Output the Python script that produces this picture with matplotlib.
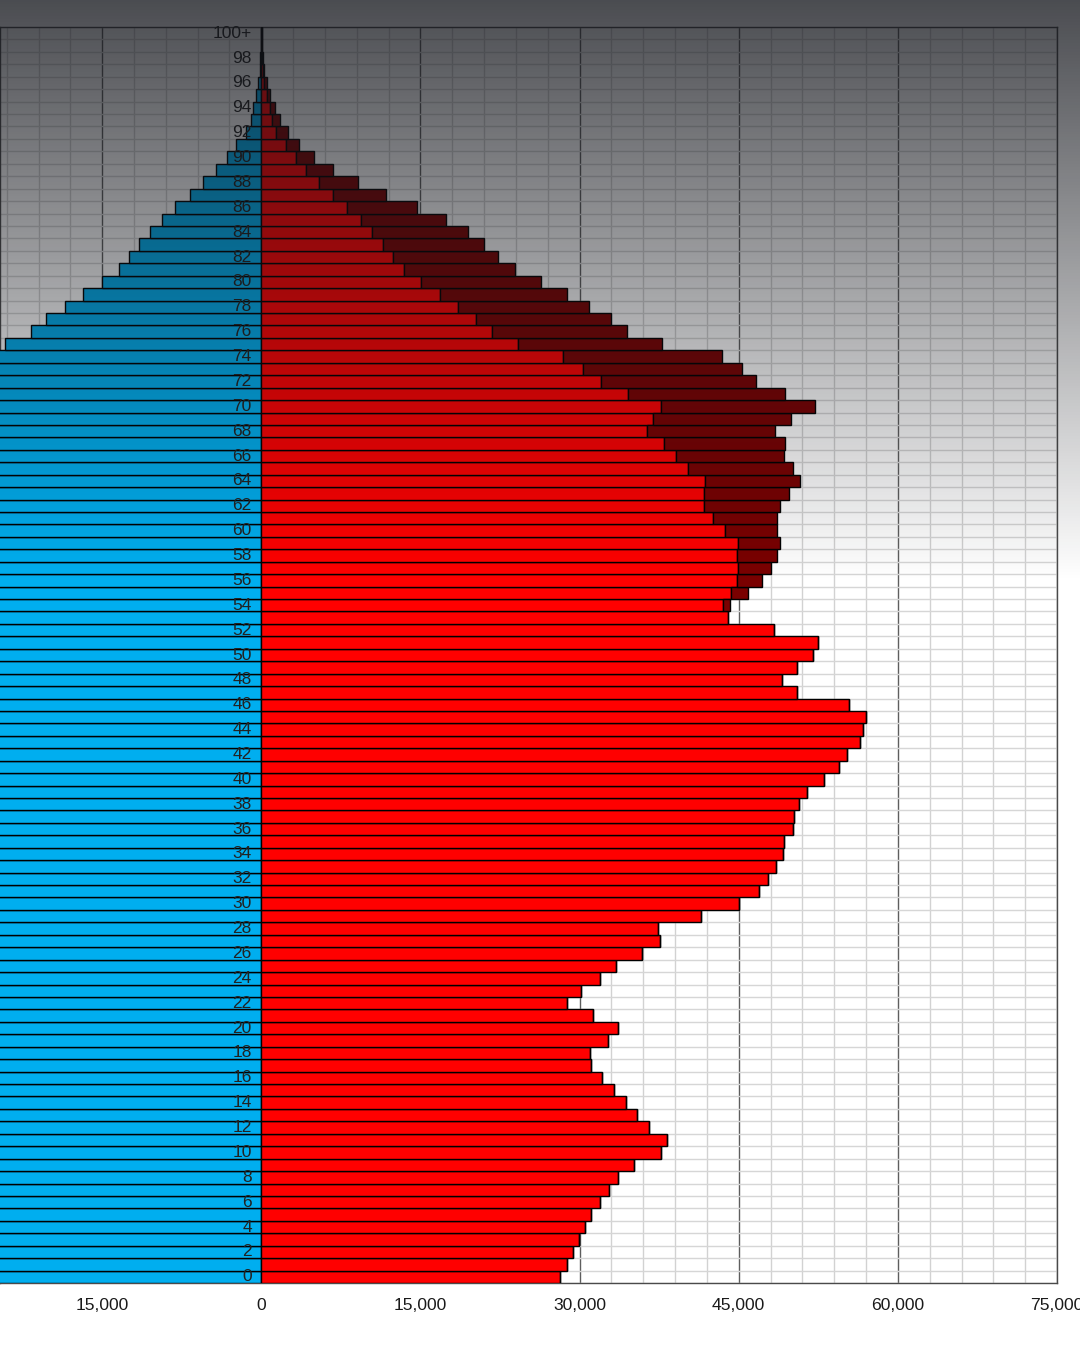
import numpy as np
import matplotlib
matplotlib.use("Agg")
import matplotlib.pyplot as plt
from matplotlib.ticker import FuncFormatter

plt.rcParams['font.family'] = ['Liberation Sans', 'DejaVu Sans']

ages = list(range(101))
age_labels = [("100+" if a == 100 else str(a)) for a in ages]

# female population by age (0 .. 100+)
female = [28200, 28800, 29350, 29950, 30550, 31100, 31900, 32750, 33600, 35150,
          37700, 38250, 36500, 35450, 34400, 33200, 32100, 31050, 30950, 32700,
          33600, 31300, 28850, 30150, 31900, 33400, 35850, 37550, 37350, 41400,
          45000, 46900, 47750, 48500, 49200, 49250, 50100, 50200, 50650, 51400,
          53000, 54450, 55200, 56400, 56700, 57000, 55400, 50450, 49050, 50450,
          52000, 52450, 48300, 43950, 44150, 45850, 47150, 48000, 48600, 48900,
          48600, 48600, 48900, 49700, 50750, 50100, 49300, 49400, 48400, 49900,
          52200, 49400, 46600, 45300, 43400, 37800, 34500, 33000, 30850, 28800,
          26400, 23950, 22350, 20950, 19450, 17450, 14700, 11800, 9100, 6800,
          5000, 3600, 2550, 1800, 1250, 800, 550, 300, 200, 100,
          80]

# male population by age (0 .. 100+)
male = [29600, 30200, 30800, 31400, 32000, 32700, 33500, 34400, 35300, 36900,
        39600, 40200, 38300, 37200, 36100, 34900, 33700, 32600, 32500, 34300,
        35300, 32900, 30300, 31700, 33500, 35100, 37600, 39400, 39200, 43500,
        47300, 49200, 50100, 50900, 51600, 51700, 52600, 52700, 53200, 54000,
        55600, 57100, 57900, 59100, 59400, 59700, 58000, 52900, 51400, 52800,
        54400, 54800, 50400, 44600, 43500, 44250, 44850, 44900, 44850, 44900,
        43750, 42550, 41700, 41750, 41800, 40200, 39050, 38000, 36400, 36900,
        37650, 34600, 32000, 30300, 28400, 24150, 21700, 20250, 18550, 16850,
        15050, 13450, 12450, 11500, 10450, 9400, 8100, 6750, 5450, 4250,
        3250, 2350, 1400, 1000, 800, 500, 300, 150, 100, 50,
        30]

male = np.array(male)
female = np.array(female)
female_base = np.minimum(male, female)
female_extra = np.clip(female - male, 0, None)

fig = plt.figure(figsize=(10.8, 13.5), dpi=100, facecolor='white')
ax = fig.add_axes([0, 67 / 1350, 1057 / 1080, 1256 / 1350])

ax.barh(ages, -male, height=1.0, color='#00aeef', edgecolor='black', linewidth=1.0, zorder=3)
ax.barh(ages, female_base, height=1.0, color='#ff0000', edgecolor='black', linewidth=1.0, zorder=3)
ax.barh(ages, female_extra, left=female_base, height=1.0, color='#7a0000',
        edgecolor='black', linewidth=1.0, zorder=3)

ax.set_xlim(-24630, 75000)
ax.set_ylim(-0.5, 100.5)

# grid
ax.set_xticks(np.arange(-15000, 75001, 15000))
ax.set_xticks(np.arange(-24000, 75001, 3000), minor=True)
ax.set_yticks([])
ax.set_yticks(np.arange(-0.5, 101, 1), minor=True)
ax.grid(which='minor', axis='x', color='#d2d2d2', linewidth=1.0, zorder=0)
ax.grid(which='minor', axis='y', color='#d6d6d6', linewidth=1.0, zorder=0)
ax.grid(which='major', axis='x', color='#5e5e5e', linewidth=1.0, zorder=0)
ax.set_axisbelow(True)
ax.xaxis.set_major_formatter(FuncFormatter(lambda v, p: f"{abs(int(v)):,}"))
ax.tick_params(axis='x', which='both', length=0, pad=11, labelsize=12.6, labelcolor='#1a1a1a')
ax.tick_params(axis='y', which='both', length=0)
for s in ax.spines.values():
    s.set_color('#4a4a4a')
    s.set_linewidth(1.0)

# age labels next to the zero line
for a, lab in zip(ages, age_labels):
    if a % 2 == 0:
        ax.text(-900, a, lab, ha='right', va='center', fontsize=12.5,
                color='#222222', zorder=5)

# dark fade at the top of the picture
h = 1350
yy = np.arange(h)
alpha = np.clip(0.77 * (1 - yy / 580.0), 0, 1)
shade = np.zeros((h, 1, 4))
shade[:, 0, 0] = 20 / 255
shade[:, 0, 1] = 22 / 255
shade[:, 0, 2] = 28 / 255
shade[:, 0, 3] = alpha
over = fig.add_axes([0, 0, 1, 1], zorder=10)
over.imshow(shade, aspect='auto', extent=[0, 1, 0, 1], origin='upper')
over.set_axis_off()

fig.savefig("out.png", dpi=100, facecolor=fig.get_facecolor())
